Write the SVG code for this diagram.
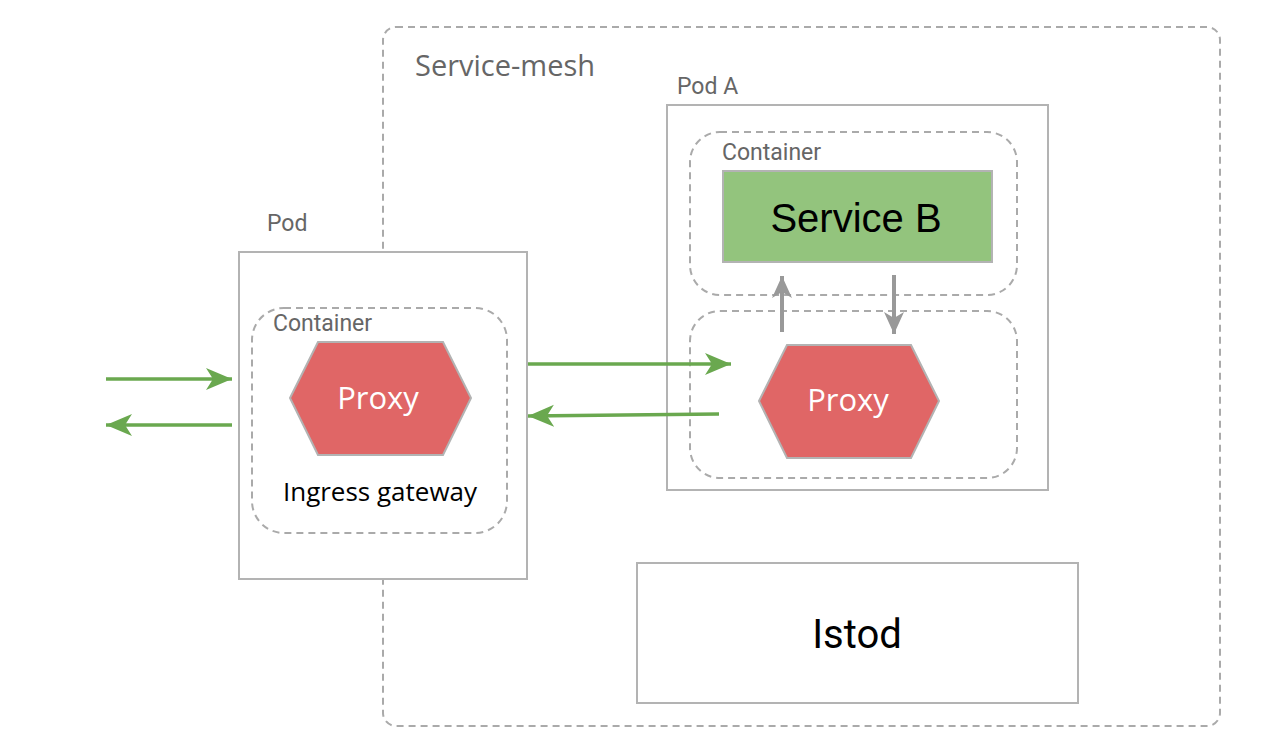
<svg xmlns="http://www.w3.org/2000/svg" width="1275" height="751" viewBox="0 0 1275 751">
<style>
.dash{fill:none;stroke:#aaaaaa;stroke-width:2;stroke-dasharray:7 5}
.box{fill:#ffffff;stroke:#b3b3b3;stroke-width:2}
.lbl{font-family:Roboto,"Liberation Sans",sans-serif;font-size:23px;fill:#666666}
.hex{fill:#e06666;stroke:#b3b3b3;stroke-width:2}
.ptxt{font-family:"Open Sans","Noto Sans",sans-serif;font-size:31px;fill:#ffffff;text-anchor:middle}
.g{stroke:#6aa84f;stroke-width:3.5;fill:none}
.gr{stroke:#999999;stroke-width:4;fill:none}
</style>
<defs>
<marker id="ag" markerUnits="userSpaceOnUse" markerWidth="28" markerHeight="24" refX="26" refY="12" orient="auto">
<path d="M0,1 L26,12 L0,23 L7,12 z" fill="#6aa84f"/>
</marker>
<marker id="ay" markerUnits="userSpaceOnUse" markerWidth="24" markerHeight="24" refX="22" refY="12" orient="auto">
<path d="M0,2 L22,12 L0,22 L6,12 z" fill="#999999"/>
</marker>
</defs>
<rect width="1275" height="751" fill="#ffffff"/>
<g id="service-mesh">
<rect class="dash" x="383" y="27" width="837" height="699" rx="13"/>
<text x="415" y="76" font-family="'Open Sans','Noto Sans',sans-serif" font-size="29" fill="#666666">Service-mesh</text>
</g>
<g id="pod">
<rect class="box" x="239" y="252" width="288" height="327"/>
<text class="lbl" x="267" y="231">Pod</text>
</g>
<g id="container-ingress">
<rect class="dash" x="252" y="308" width="255" height="225" rx="32"/>
<text class="lbl" x="273" y="331">Container</text>
</g>
<g id="proxy-ingress">
<polygon class="hex" points="290,398 318,342 443,342 471,398 443,455 318,455"/>
<text class="ptxt" x="378" y="409">Proxy</text>
<text x="380" y="501" font-family="'Open Sans','Noto Sans',sans-serif" font-size="26" fill="#000000" text-anchor="middle">Ingress gateway</text>
</g>
<g id="pod-a">
<rect class="box" x="667" y="105" width="381" height="385"/>
<text class="lbl" x="677" y="94">Pod A</text>
</g>
<g id="container-service">
<rect class="dash" x="690" y="132" width="327" height="163" rx="30"/>
<text class="lbl" x="722" y="160">Container</text>
</g>
<g id="service-b">
<rect x="723" y="171" width="269" height="91" fill="#93c47d" stroke="#b3b3b3" stroke-width="2"/>
<text x="856" y="232" font-family="'Liberation Sans',Arial,sans-serif" font-size="40" fill="#000000" text-anchor="middle">Service B</text>
</g>
<g id="container-proxy">
<rect class="dash" x="690" y="311" width="327" height="167" rx="30"/>
</g>
<g id="proxy-a">
<polygon class="hex" points="759,401 787,345 911,345 939,401 911,458 787,458"/>
<text class="ptxt" x="848" y="411">Proxy</text>
</g>
<g id="istod">
<rect class="box" x="637" y="563" width="441" height="140"/>
<text x="857" y="648" font-family="Roboto,'Liberation Sans',sans-serif" font-size="40" fill="#000000" text-anchor="middle">Istod</text>
</g>
<g id="connectors">
<line class="g" x1="106" y1="379" x2="232" y2="379" marker-end="url(#ag)"/>
<line class="g" x1="232" y1="425" x2="106" y2="425" marker-end="url(#ag)"/>
<line class="g" x1="528" y1="364" x2="731" y2="364" marker-end="url(#ag)"/>
<line class="g" x1="719" y1="414" x2="528" y2="416" marker-end="url(#ag)"/>
<line class="gr" x1="782" y1="332" x2="782" y2="276" marker-end="url(#ay)"/>
<line class="gr" x1="894" y1="275" x2="894" y2="334" marker-end="url(#ay)"/>
</g>
</svg>
